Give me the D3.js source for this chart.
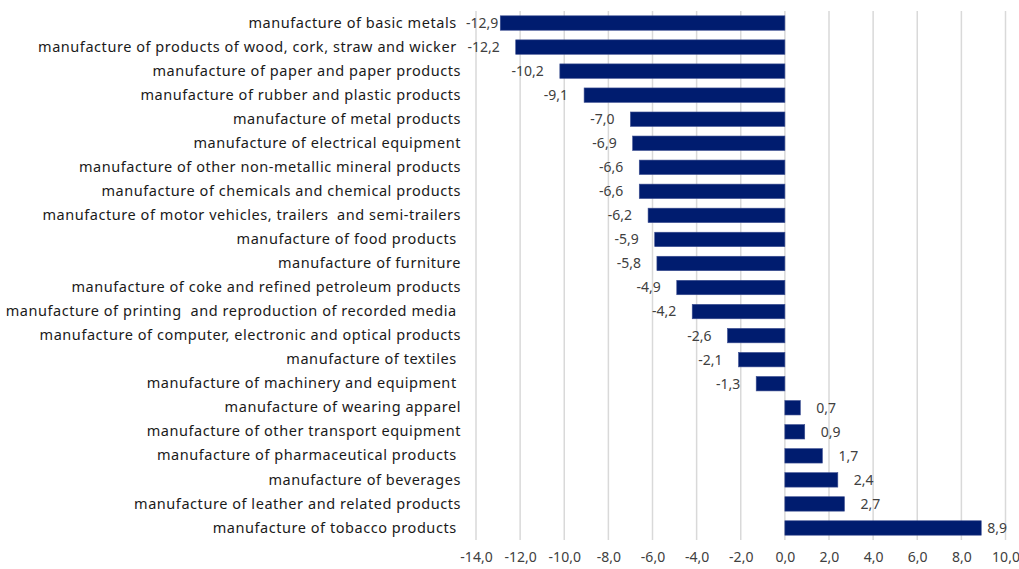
<!DOCTYPE html>
<html><head><meta charset="utf-8">
<script src="https://cdn.jsdelivr.net/npm/d3@7"></script>
<style>
html,body{margin:0;padding:0;background:#fff;}
text{white-space:pre;}
</style>
</head><body>
<svg id="chart" width="1019" height="569"></svg>
<script>
const categories = [
  "manufacture of basic metals ",
  "manufacture of products of wood, cork, straw and wicker ",
  "manufacture of paper and paper products",
  "manufacture of rubber and plastic products",
  "manufacture of metal products",
  "manufacture of electrical equipment",
  "manufacture of other non-metallic mineral products",
  "manufacture of chemicals and chemical products",
  "manufacture of motor vehicles, trailers  and semi-trailers",
  "manufacture of food products ",
  "manufacture of furniture",
  "manufacture of coke and refined petroleum products",
  "manufacture of printing  and reproduction of recorded media ",
  "manufacture of computer, electronic and optical products",
  "manufacture of textiles ",
  "manufacture of machinery and equipment ",
  "manufacture of wearing apparel",
  "manufacture of other transport equipment",
  "manufacture of pharmaceutical products ",
  "manufacture of beverages",
  "manufacture of leather and related products",
  "manufacture of tobacco products "
];
const values = [-12.9,-12.2,-10.2,-9.1,-7.0,-6.9,-6.6,-6.6,-6.2,-5.9,-5.8,-4.9,-4.2,-2.6,-2.1,-1.3,0.7,0.9,1.7,2.4,2.7,8.9];
const tickValues = [-14,-12,-10,-8,-6,-4,-2,0,2,4,6,8,10];

(function(){
const fmt = v => d3.format(".1f")(v).replace(".", ",").replace("−","-");
const font = "'Noto Sans', sans-serif";

const svg = d3.select("#chart");
const pLeft = 476, pRight = 1005.5, pTop = 11, pBottom = 540;
const x = d3.scaleLinear().domain([-14, 10]).range([pLeft, pRight]);
const y = d3.scaleBand().domain(categories).range([pTop, pBottom]).paddingInner(0.4).paddingOuter(0.2);

svg.append("g").selectAll("line").data(tickValues).join("line")
  .attr("x1", d => x(d)).attr("x2", d => x(d))
  .attr("y1", pTop).attr("y2", pBottom)
  .attr("stroke", "#d9d9d9").attr("stroke-width", 1.5);

const xAxis = d3.axisBottom(x).tickValues(tickValues).tickSize(0).tickPadding(0).tickFormat(fmt);
const gx = svg.append("g").attr("transform", `translate(0,${pBottom})`).call(xAxis);
gx.select(".domain").remove();
gx.selectAll("text").attr("y", 18).attr("dy", "0.32em")
  .attr("font-family", font).attr("font-size", 14).attr("fill", "#404040");

svg.append("g").selectAll("rect").data(values).join("rect")
  .attr("x", d => x(Math.min(0, d)))
  .attr("width", d => Math.abs(x(d) - x(0)))
  .attr("y", (d, i) => y(categories[i]))
  .attr("height", y.bandwidth())
  .attr("fill", "#001c6f").attr("stroke", "#3d4f92").attr("stroke-width", 0.6);

const yAxis = d3.axisLeft(y).tickSize(0).tickPadding(0);
const gy = svg.append("g").attr("transform", `translate(461,0)`).call(yAxis);
gy.select(".domain").remove();
gy.selectAll("text").attr("font-family", font).attr("font-size", 14.5).attr("fill", "#1a1a1a")
  .attr("letter-spacing", "0.55px")
  .attr("xml:space", "preserve");

const vl = svg.append("g").selectAll("text").data(values).join("text")
  .attr("font-family", font).attr("font-size", 14).attr("fill", "#404040")
  .attr("y", (d, i) => y(categories[i]) + y.bandwidth() / 2)
  .attr("dy", "0.35em")
  .attr("text-anchor", "start")
  .text(d => fmt(d));
vl.each(function(d) {
  const w = this.getComputedTextLength();
  let px;
  if (d < 0) {
    px = x(d) - 16 - w;
    if (px < 466) px = 466;
  } else {
    px = x(d) + 16;
    if (px + w > 1007) px = 1007 - w;
  }
  d3.select(this).attr("x", px);
});
})();
</script>
</body></html>
